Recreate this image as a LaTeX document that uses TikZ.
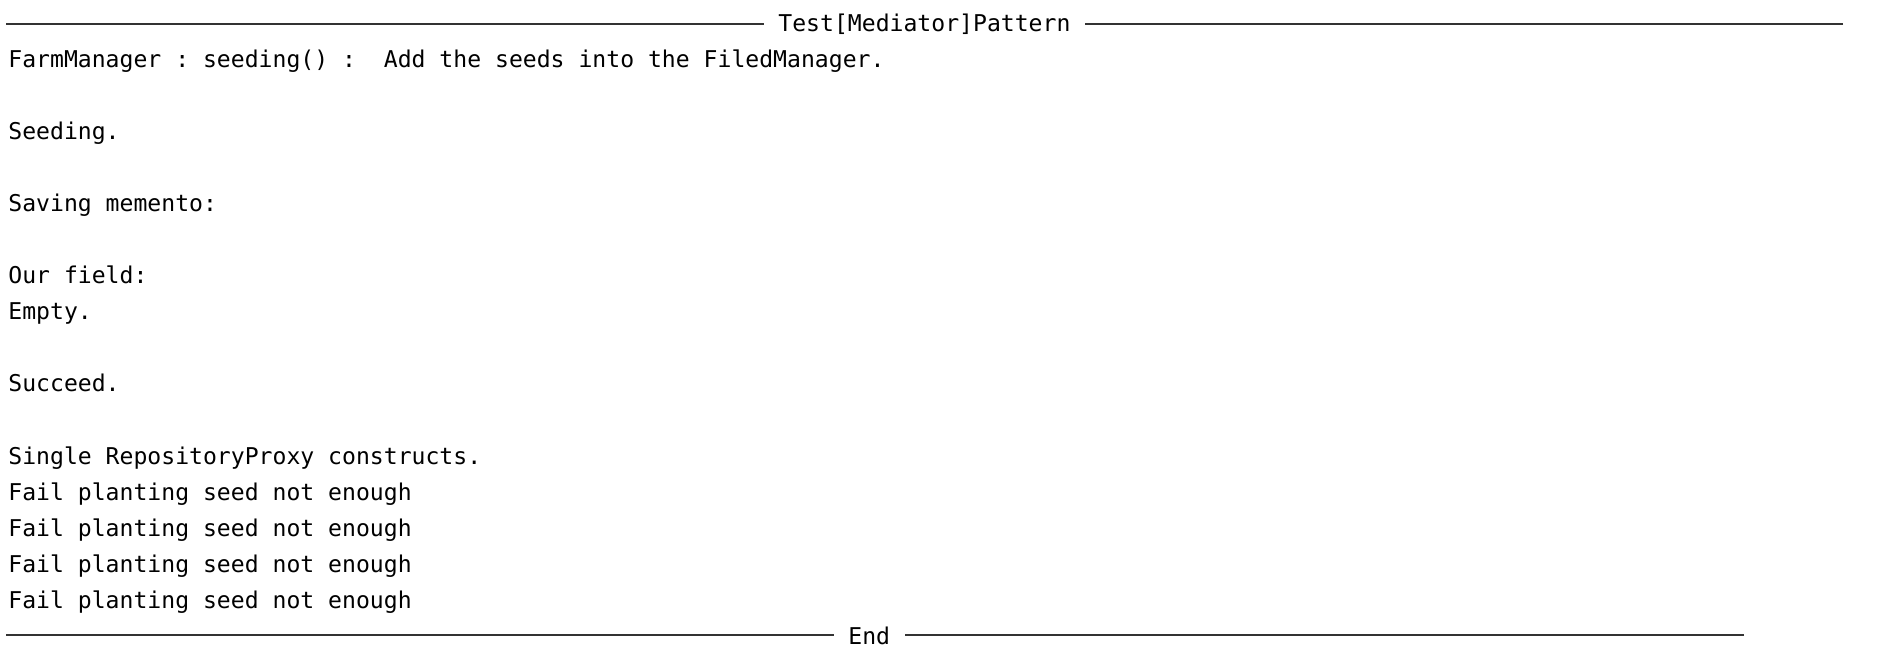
\documentclass[tikz,border=0pt]{standalone}
\usepackage{fontspec}
\setmonofont{DejaVu Sans Mono}
\usetikzlibrary{positioning}
\tikzset{
  term/.style={anchor=base west, inner sep=0pt, font=\ttfamily\fontsize{11.55}{13}\selectfont},
  rule/.style={line width=1.3pt, black!80, shorten >=7pt}
}
\begin{document}
\begin{tikzpicture}[x=0.5pt, y=-0.5pt] % {{{
	\pgfmathsetmacro{\linestep}{36}
	\useasboundingbox (0,0) rectangle (1886,668);
	% Header {{{
	\node[term] (title) at (778,32) {Test[Mediator]Pattern};
	\coordinate (titleL) at (6,24);
	\coordinate (titleR) at (1843,24);
	\draw[rule] (titleL) -- (titleL -| title.west);
	\draw[rule] (titleR) -- (titleR -| title.east);
	% }}}
	% Output {{{
	\foreach \y/\txt in {1/{FarmManager : seeding() :\ \ Add the seeds into the FiledManager.},
	                     3/{Seeding.}, 5/{Saving memento:}, 7/{Our field:}, 8/{Empty.},
	                     10/{Succeed.}, 12/{Single RepositoryProxy constructs.}} {
	  \node[term] (line\y) at (8,32+\y*\linestep) {\txt};
	}
	\foreach \y in {13,...,16} {
	  \node[term] (fail\y) at (8,32+\y*\linestep) {Fail planting seed not enough};
	}
	% }}}
	% Footer {{{
	\node[term] (end) at (848,644) {End};
	\coordinate (endL) at (6,635);
	\coordinate (endR) at (1744,635);
	\draw[rule] (endL) -- (endL -| end.west);
	\draw[rule] (endR) -- (endR -| end.east);
	% }}}
\end{tikzpicture} % }}}
\end{document}
